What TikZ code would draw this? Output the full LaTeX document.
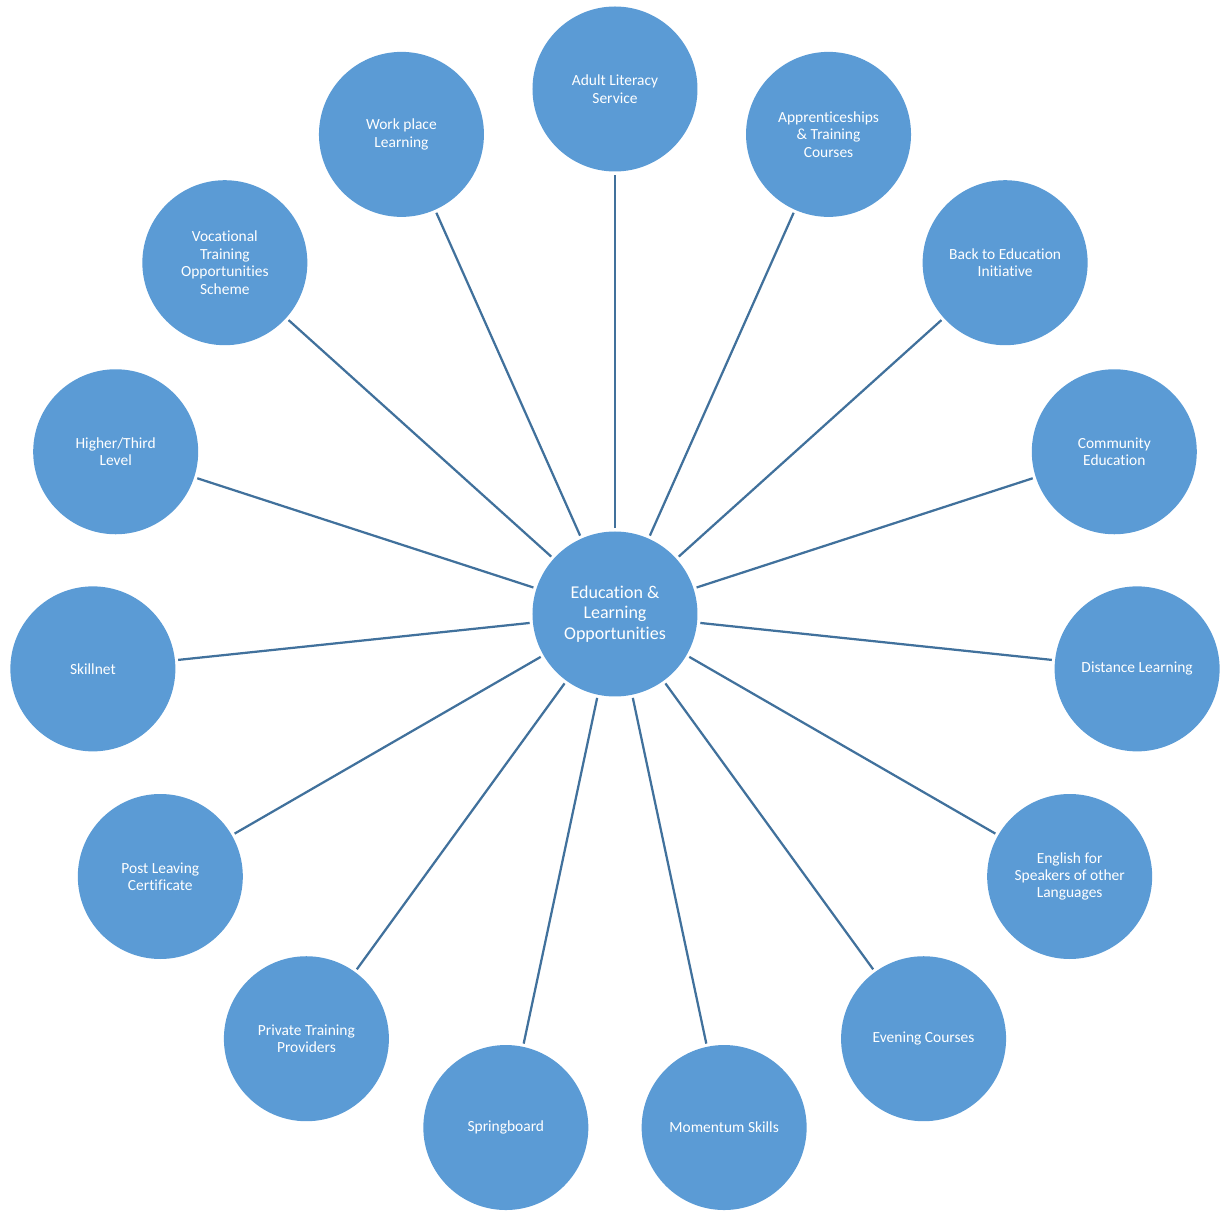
\documentclass[tikz,border=0pt]{standalone}
\usepackage{fontspec}
\setmainfont{Carlito}[Ligatures=NoCommon]
\definecolor{oppblue}{HTML}{5B9BD5}
\definecolor{spokeblue}{HTML}{41719C}

\begin{document}
\begin{tikzpicture}
  \tikzstyle{topic} = [circle, minimum size=4.125cm, inner sep=0pt, fill=oppblue, text=white, align=center, font=\fontsize{11}{12.4}\selectfont]
  \tikzstyle{hubnode} = [topic, font=\fontsize{12.8}{14.6}\selectfont]
  \tikzstyle{spoke} = [draw=spokeblue, line width=1.6pt, shorten <=0.075cm, shorten >=0.075cm]

  \useasboundingbox (-15.375,-14.925) rectangle (15.125,15.35);

  \node (hub) [hubnode] {Education \&\\Learning\\Opportunities};

  % fifteen topics round the hub, 24 degrees apart, clockwise from the top
  \foreach \txt [count=\i] in {{Adult Literacy\\Service}, {Apprenticeships\\\& Training\\Courses}, {Back to Education\\Initiative}, {Community\\Education}, {Distance Learning}, {English for\\Speakers of other\\Languages}, {Evening Courses}, {Momentum Skills}, {Springboard}, {Private Training\\Providers}, {Post Leaving\\Certificate}, {Skillnet}, {Higher/Third\\Level}, {Vocational\\Training\\Opportunities\\Scheme}, {Work place\\Learning}} {
    \node (opp\i) [topic] at ({90-24*(\i-1)}:13.125cm) {\txt};
    \draw [spoke] (hub) -- (opp\i);
  }
\end{tikzpicture}
\end{document}
